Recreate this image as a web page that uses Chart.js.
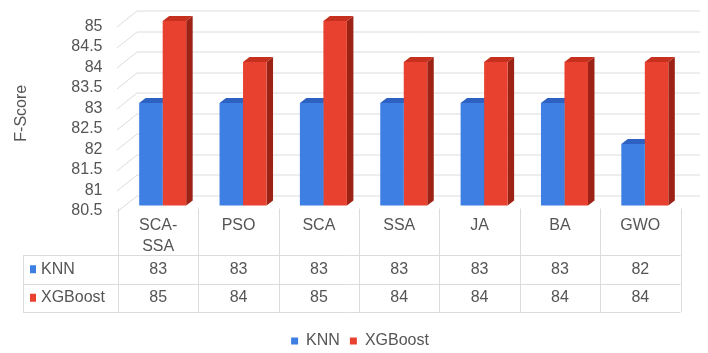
<!DOCTYPE html>
<html><head><meta charset="utf-8">
<script src="https://cdn.jsdelivr.net/npm/chart.js@4"></script>
<style>html,body{margin:0;padding:0;background:#fff;overflow:hidden}#wrap{width:708px;height:353px}</style>
</head><body><div id="wrap"><canvas id="c" width="708" height="353"></canvas></div>
<script>
const categories = ['SCA-SSA', 'PSO', 'SCA', 'SSA', 'JA', 'BA', 'GWO'];
const knnValues = [83, 83, 83, 83, 83, 83, 82];
const xgbValues = [85, 84, 85, 84, 84, 84, 84];
const seriesNames = ['KNN', 'XGBoost'];
const yTickLabels = ['80.5', '81', '81.5', '82', '82.5', '83', '83.5', '84', '84.5', '85'];
const axisTitle = 'F-Score';

const FONT = '"Liberation Sans", Arial, sans-serif';
const TXT = '#555555';
const GRID = '#dcdcdc';
const fronts = ['#3d7fe3', '#e8412f'];
const tops = ['#2d62c2', '#c5301f'];
const sides = ['#2551a3', '#9c2216'];
const DX = 6.5, DY = -5;

const threeD = {
  id: 'threeD',
  beforeDatasetsDraw(chart) {
    const ctx = chart.ctx, ys = chart.scales.y, a = chart.chartArea;
    ctx.save();
    ctx.strokeStyle = GRID; ctx.lineWidth = 1;
    ys.ticks.forEach(t => {
      const p = Math.round(ys.getPixelForValue(t.value)) + 0.5;
      ctx.beginPath();
      ctx.moveTo(a.left - 5.5, p + 5.5);
      ctx.lineTo(a.left + 14.5, p - 10.5);
      ctx.lineTo(a.right + 15, p - 10.5);
      ctx.stroke();
    });
    chart.data.datasets.forEach((ds, di) => {
      const meta = chart.getDatasetMeta(di);
      meta.data.forEach(bar => {
        const x0 = bar.x - bar.width / 2, x1 = bar.x + bar.width / 2;
        const yt = bar.y, yb = Math.min(bar.base, a.bottom);
        ctx.fillStyle = sides[di];
        ctx.beginPath();
        ctx.moveTo(x1, yt); ctx.lineTo(x1 + DX, yt + DY);
        ctx.lineTo(x1 + DX, yb + DY); ctx.lineTo(x1, yb); ctx.closePath(); ctx.fill();
        ctx.fillStyle = tops[di];
        ctx.beginPath();
        ctx.moveTo(x0, yt); ctx.lineTo(x0 + DX, yt + DY);
        ctx.lineTo(x1 + DX, yt + DY); ctx.lineTo(x1, yt); ctx.closePath(); ctx.fill();
      });
    });
    ctx.restore();
  },
  afterDraw(chart) {
    const ctx = chart.ctx, xs = chart.scales.x, a = chart.chartArea;
    const n = categories.length;
    const colW = (xs.right - xs.left) / n;
    const tl = xs.left - 4.5;
    const tr = tl + n * colW;
    const hTop = a.bottom + 3, r1 = a.bottom + 49.5, r2 = a.bottom + 78, r3 = a.bottom + 106.5;
    const labL = 23;
    ctx.save();
    ctx.strokeStyle = GRID; ctx.lineWidth = 1;
    ctx.beginPath();
    for (let i = 0; i <= n; i++) {
      const x = Math.round(tl + i * colW) + 0.5;
      ctx.moveTo(x, hTop); ctx.lineTo(x, r3);
    }
    [r1, r2, r3].forEach(y => { const yy = Math.round(y) + 0.5; ctx.moveTo(labL, yy); ctx.lineTo(tr, yy); });
    ctx.moveTo(labL + 0.5, r1); ctx.lineTo(labL + 0.5, r3);
    ctx.stroke();
    ctx.fillStyle = TXT;
    ctx.font = '16px ' + FONT;
    ctx.textAlign = 'center'; ctx.textBaseline = 'middle';
    categories.forEach((c, i) => {
      const cx = tl + (i + 0.5) * colW;
      const lines = c.includes('-') ? [c.slice(0, c.indexOf('-') + 1), c.slice(c.indexOf('-') + 1)] : [c];
      lines.forEach((ln, k) => ctx.fillText(ln, cx, a.bottom + 20.5 + k * 21));
    });
    const rows = [knnValues, xgbValues];
    const rowY = [(r1 + r2) / 2, (r2 + r3) / 2];
    rows.forEach((vals, ri) => {
      vals.forEach((v, i) => ctx.fillText(String(v), tl + (i + 0.5) * colW, rowY[ri]));
    });
    ctx.textAlign = 'left';
    seriesNames.forEach((s, ri) => {
      ctx.fillStyle = fronts[ri];
      ctx.fillRect(labL + 7, rowY[ri] - 4, 6, 8);
      ctx.fillStyle = TXT;
      ctx.fillText(s, labL + 18, rowY[ri]);
    });
    ctx.restore();
  }
};

new Chart(document.getElementById('c'), {
  type: 'bar',
  data: {
    labels: categories,
    datasets: [
      { label: seriesNames[0], data: knnValues, backgroundColor: fronts[0], borderWidth: 0, categoryPercentage: 0.585, barPercentage: 1 },
      { label: seriesNames[1], data: xgbValues, backgroundColor: fronts[1], borderWidth: 0, categoryPercentage: 0.585, barPercentage: 1 }
    ]
  },
  options: {
    responsive: false,
    animation: false,
    devicePixelRatio: 1,
    layout: { padding: { left: 12, right: 0, top: 21, bottom: -6 } },
    plugins: {
      tooltip: { enabled: false },
      legend: {
        position: 'bottom',
        labels: { font: { size: 16, family: FONT }, color: TXT, boxWidth: 7, boxHeight: 7, padding: 10 }
      }
    },
    scales: {
      x: {
        grid: { display: false, drawTicks: false },
        border: { display: false },
        ticks: { display: false },
        afterFit(s) { s.height = 117.5; s.paddingLeft = 0; s.paddingRight = 0; }
      },
      y: {
        min: 80.5, max: 85,
        grid: { display: false, drawTicks: false },
        border: { display: false },
        ticks: {
          stepSize: 0.5, padding: 20, labelOffset: 5.5, color: TXT, autoSkip: false,
          font: { size: 16, family: FONT },
          callback: (v, i) => yTickLabels[i]
        },
        title: { display: true, text: axisTitle, color: TXT, font: { size: 16, family: FONT }, padding: { top: 0, bottom: 0 } },
        afterFit(s) { s.width = 110.5; s.paddingTop = 0; s.paddingBottom = 0; }
      },
      y2: {
        position: 'right',
        display: true,
        grid: { display: false, drawTicks: false },
        border: { display: false },
        ticks: { display: false },
        afterFit(s) { s.width = 23; s.paddingTop = 0; s.paddingBottom = 0; }
      }
    }
  },
  plugins: [threeD]
});
</script>
</body></html>
